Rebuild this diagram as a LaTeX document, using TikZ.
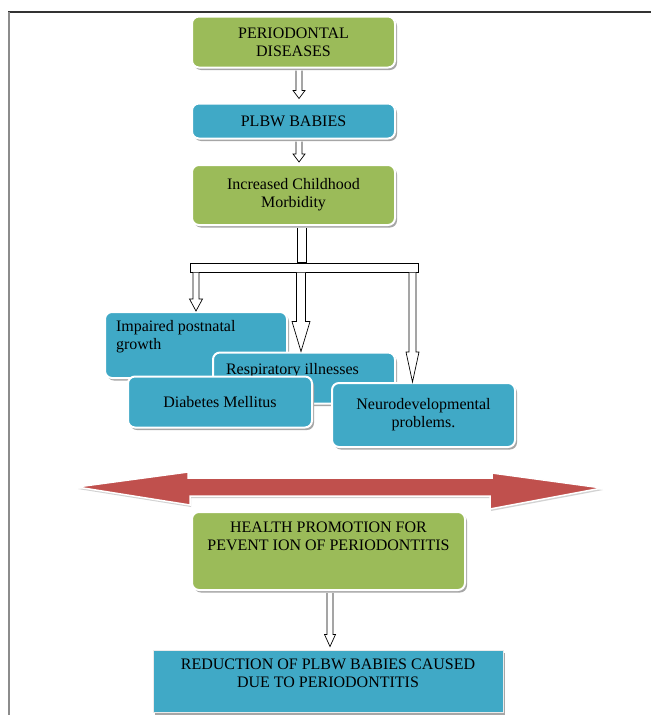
\documentclass[tikz,border=0pt]{standalone}
\usepackage{fontspec}
\setmainfont{Liberation Serif}
\usetikzlibrary{calc,shadows}
\definecolor{boxgreen}{HTML}{9BBB59}
\definecolor{boxblue}{HTML}{40A9C6}
\definecolor{arrowred}{HTML}{C0504D}
\begin{document}
\begin{tikzpicture}[x=1pt,y=-1pt,
  box/.style={draw=white,line width=2pt,rounded corners=7pt,inner sep=2pt,align=center,
    font=\fontsize{16}{18}\selectfont,
    drop shadow={shadow xshift=2pt,shadow yshift=-2.5pt,fill=gray!70,opacity=1}},
  greenbox/.style={box,fill=boxgreen},
  bluebox/.style={box,fill=boxblue},
  hollow/.style n args={3}{draw=black,fill=white,line width=0.7pt,line join=miter,
    to path={let \p1=(\tikztostart),\p2=(\tikztotarget) in
      (\x1-#1,\y1) -- (\x1-#1,\y2+#2) -- (\x1-#3,\y2+#2) -- (\x1,\y2)
      -- (\x1+#3,\y2+#2) -- (\x1+#1,\y2+#2) -- (\x1+#1,\y1)}}]
\useasboundingbox (0,0) rectangle (651,715);
\draw[line width=1.2pt,black!80] (8,12) -- (651,12);
\draw[line width=1.5pt,black!45] (9,12) -- (9,715);

\node[greenbox,minimum width=203,minimum height=51] (pd) at (293.5,42) {PERIODONTAL\\DISEASES};
\node[bluebox,minimum width=203,minimum height=35] (pb) at (293.5,121) {PLBW BABIES};
\node[greenbox,minimum width=203,minimum height=60] (icm) at (293.5,195) {Increased Childhood\\Morbidity};
\node[draw,fill=white,line width=1pt,minimum width=228,minimum height=9,inner sep=0] (bar) at (304,267.5) {};

\node[bluebox,minimum width=182,minimum height=66] (ipg) at (196,345)
  {\parbox[t][50pt][t]{160pt}{Impaired postnatal\\growth}};
\node[bluebox,minimum width=182,minimum height=51] (ri) at (304,378)
  {\parbox[t][30pt][t]{156pt}{Respiratory illnesses}};
\node[bluebox,minimum width=184,minimum height=51] (dm) at (220,402) {Diabetes Mellitus};
\node[bluebox,minimum width=183,minimum height=64] (nd) at (423.5,415) {Neurodevelopmental\\problems.};

\filldraw[fill=arrowred,draw=white,line width=1.5pt,
  drop shadow={shadow xshift=1pt,shadow yshift=-2pt,fill=gray!70}]
  (77,487) -- (188,472) -- (188,478) -- (492,478) -- (492,473) -- (602,488)
  -- (490,509) -- (490,496) -- (190,496) -- (190,505) -- cycle;

\node[greenbox,minimum width=273,minimum height=78] (hp) at (328.5,551)
  {\parbox[t][58pt][t]{262pt}{\centering HEALTH PROMOTION FOR\\PEVENT ION OF PERIODONTITIS}};
\node[bluebox,rounded corners=0pt,draw=white!92!black,line width=1pt,drop shadow={opacity=0},
  minimum width=350,minimum height=62] (rd) at (328,681)
  {\parbox[t][44pt][t]{340pt}{\centering REDUCTION OF PLBW BABIES CAUSED\\DUE TO PERIODONTITIS}};

\coordinate (a1) at ([xshift=5.5pt,yshift=-2pt]pd.south);
\coordinate (a2) at ([xshift=5.5pt,yshift=4pt]pb.north);
\coordinate (a3) at ([xshift=5.5pt,yshift=-2pt]pb.south);
\coordinate (a4) at ([xshift=5.5pt,yshift=2pt]icm.north);
\coordinate (s1) at ([xshift=8pt,yshift=-2pt]icm.south);
\coordinate (s2) at ([xshift=8pt]icm.south |- bar.north);
\coordinate (b1) at (bar.south -| ipg.north);
\coordinate (b2) at ([xshift=-3pt]bar.south -| ri.north);
\coordinate (b3) at ([xshift=-3pt]ri.north);
\coordinate (b4) at ([xshift=-6pt]bar.south east);
\coordinate (b5) at ([xshift=-6pt]bar.south east |- nd.north);
\coordinate (c1) at ([xshift=1.5pt,yshift=-2pt]hp.south);
\coordinate (c2) at ([yshift=3pt]c1 |- rd.north);

\draw[hollow={3pt}{8pt}{6pt}] (a1) to (a2);
\draw[hollow={3pt}{8pt}{6pt}] (a3) to (a4);
\draw[hollow={4.5pt}{0pt}{4.5pt}] (s1) to (s2);
\draw[hollow={3pt}{12pt}{6.5pt}] (b1) to (ipg.north);
\draw[hollow={4.5pt}{30pt}{9pt}] (b2) to (b3);
\draw[hollow={3.5pt}{30pt}{6.5pt}] (b4) to (b5);
\draw[hollow={3pt}{12pt}{5.5pt}] (c1) to (c2);
\end{tikzpicture}
\end{document}
